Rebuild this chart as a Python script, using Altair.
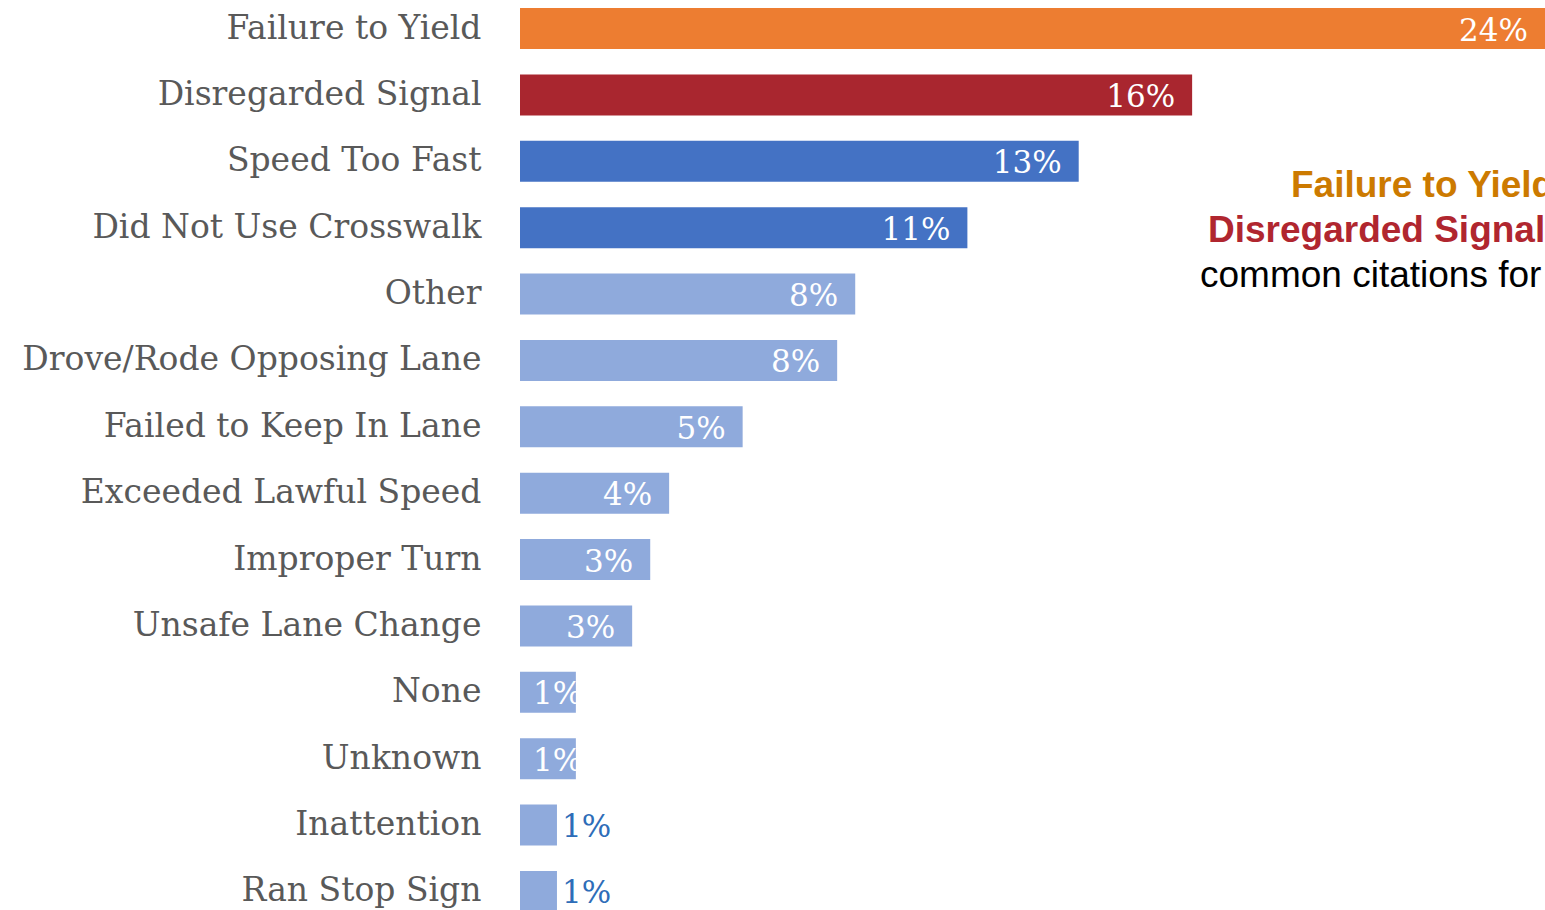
import altair as alt
import pandas as pd

categories = [
    "Failure to Yield", "Disregarded Signal", "Speed Too Fast", "Did Not Use Crosswalk",
    "Other", "Drove/Rode Opposing Lane", "Failed to Keep In Lane", "Exceeded Lawful Speed",
    "Improper Turn", "Unsafe Lane Change", "None", "Unknown", "Inattention", "Ran Stop Sign",
]
values = [24.4, 16.0, 13.3, 10.65, 7.98, 7.55, 5.3, 3.55, 3.1, 2.67, 1.33, 1.33, 0.88, 0.88]
labels = ["24%", "16%", "13%", "11%", "8%", "8%", "5%", "4%", "3%", "3%", "1%", "1%", "1%", "1%"]

ORANGE, RED, BLUE, LIGHT = "#ED7D31", "#A9262F", "#4472C4", "#8FAADC"
bar_colors = [ORANGE, RED, BLUE, BLUE] + [LIGHT] * 10

df = pd.DataFrame({"category": categories, "value": values, "label": labels})

SERIF = "DejaVu Serif"

y_axis = alt.Axis(
    title=None, ticks=False, domain=False, labelPadding=39,
    labelFont=SERIF, labelFontSize=33, labelColor="#595959",
    labelLimit=600, labelOverlap=False,
)
y_scale = alt.Scale(range=[8, 912], paddingInner=0.382, paddingOuter=0)
y_enc = alt.Y("category:N", sort=categories, scale=y_scale, axis=y_axis)
x_scale = alt.Scale(domain=[0, 24.4], nice=False, zero=True)
x_enc = alt.X("value:Q", scale=x_scale, axis=None)

base = alt.Chart(df)

bars = base.mark_bar().encode(
    x=x_enc,
    y=y_enc,
    color=alt.Color("category:N", scale=alt.Scale(domain=categories, range=bar_colors), legend=None),
)

txt_style = dict(font=SERIF, fontSize=31, baseline="middle", dy=3)

inside = base.transform_filter("datum.value >= 2").mark_text(
    align="right", dx=-17, color="white", **txt_style
).encode(x=x_enc, y=y_enc, text="label:N")

clipped = base.transform_filter("datum.value >= 1 && datum.value < 2").mark_text(
    align="left", dx=13, color="white", **txt_style
).encode(x=alt.value(0), y=y_enc, text="label:N")

outside = base.transform_filter("datum.value < 1").mark_text(
    align="left", dx=5, color="#2E6DB8", **txt_style
).encode(x=x_enc, y=y_enc, text="label:N")

note_lines = ["Failure to Yield", "Disregarded Signal", "common citations for"]
note_df = pd.DataFrame({"t": note_lines})

SANS = "Liberation Sans"
note1 = alt.Chart(note_df.iloc[[0]]).mark_text(
    align="left", baseline="alphabetic", font=SANS, fontSize=37, fontWeight="bold", color="#CC7A00"
).encode(x=alt.value(771), y=alt.value(197), text="t:N")
note2 = alt.Chart(note_df.iloc[[1]]).mark_text(
    align="left", baseline="alphabetic", font=SANS, fontSize=37, fontWeight="bold", color="#B0262F"
).encode(x=alt.value(688), y=alt.value(242), text="t:N")
note3 = alt.Chart(note_df.iloc[[2]]).mark_text(
    align="left", baseline="alphabetic", font=SANS, fontSize=37, color="#000000"
).encode(x=alt.value(680), y=alt.value(287), text="t:N")

chart = alt.layer(bars, inside, clipped, outside, note1, note2, note3).properties(
    width=1025, height=910,
    padding={"left": 520, "top": 0, "right": 0, "bottom": 0},
    autosize=alt.AutoSizeParams(type="none"),
    background="white",
).configure_view(strokeWidth=0).configure_axis(domain=False, ticks=False, grid=False)

chart.save("out.html", embed_options={"renderer": "svg", "actions": False})
